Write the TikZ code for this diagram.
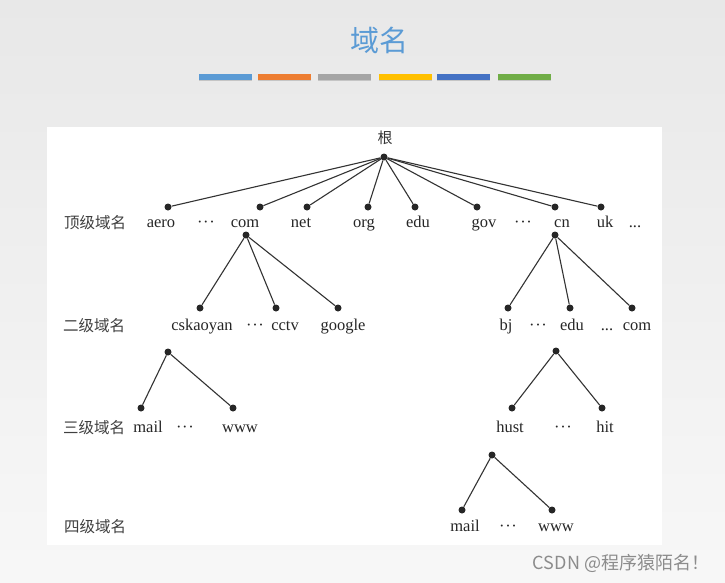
\documentclass[tikz,border=0pt]{standalone}
\usepackage{fontspec}
\setmainfont{Liberation Serif}
\newfontfamily\cjk{Noto Sans CJK SC}
\usetikzlibrary{shadows}
\newcommand{\mydots}{\textperiodcentered\kern0.6pt\textperiodcentered\kern0.6pt\textperiodcentered}
\begin{document}
\begin{tikzpicture}[x=1pt,y=-1pt,
  dot/.style={circle,fill=black!85,inner sep=0pt,minimum size=7pt},
  lbl/.style={font=\fontsize{16.5}{18}\selectfont,inner sep=0pt,text=black!85,anchor=base},
  lvl/.style={font=\cjk\fontsize{15.5}{18}\selectfont,inner sep=0pt,text=black!75,anchor=base},
  conn/.style={draw=black!80,line width=1.1pt},
  bar/.style={minimum width=53pt,minimum height=5.5pt,inner sep=0pt,
    drop shadow={shadow xshift=0.5pt,shadow yshift=-1.5pt,opacity=0.35}}]
\definecolor{ttl}{HTML}{5B9BD5}
\definecolor{b1}{HTML}{5B9BD5}
\definecolor{b2}{HTML}{ED7D31}
\definecolor{b3}{HTML}{A5A5A5}
\definecolor{b4}{HTML}{FFC000}
\definecolor{b5}{HTML}{4472C4}
\definecolor{b6}{HTML}{70AD47}
\useasboundingbox (0,0) rectangle (725,582);
\shade[top color=black!9,bottom color=black!3] (0,0) rectangle (725,582);
\fill[white] (47,127) rectangle (662,545);
% title
\node[font=\cjk\fontsize{29}{32}\selectfont,text=ttl,inner sep=0pt] (title) at (379,40) {域名};
\node[bar,fill=b1] (bar1) at (225,77) {};
\node[bar,fill=b2] (bar2) at (284,77) {};
\node[bar,fill=b3] (bar3) at (344,77) {};
\node[bar,fill=b4] (bar4) at (405,77) {};
\node[bar,fill=b5] (bar5) at (463,77) {};
\node[bar,fill=b6] (bar6) at (524,77) {};
% level names
\node[lvl] (L1) at (95,228) {顶级域名};
\node[lvl] (L2) at (94,331) {二级域名};
\node[lvl] (L3) at (94,433) {三级域名};
\node[lvl] (L4) at (95,532) {四级域名};
% root
\node[font=\cjk\fontsize{15}{18}\selectfont,inner sep=0pt,text=black!80] (rootlbl) at (385,138) {根};
\node[dot] (root) at (384,157) {};
% top level
\node[dot] (aero) at (168,207) {};
\node[dot] (com) at (260,207) {};
\node[dot] (net) at (307,207) {};
\node[dot] (org) at (368,207) {};
\node[dot] (edu) at (415,207) {};
\node[dot] (gov) at (477,207) {};
\node[dot] (cn) at (555,207) {};
\node[dot] (uk) at (601,207) {};
\foreach \n in {aero,com,net,org,edu,gov,cn,uk} \draw[conn] (root) -- (\n);
\node[lbl] (taero) at (161,227) {aero};
\node[lbl] (td1) at (206,227) {\mydots};
\node[lbl] (tcom) at (245,227) {com};
\node[lbl] (tnet) at (301,227) {net};
\node[lbl] (torg) at (364,227) {org};
\node[lbl] (tedu) at (418,227) {edu};
\node[lbl] (tgov) at (484,227) {gov};
\node[lbl] (td2) at (523,227) {\mydots};
\node[lbl] (tcn) at (562,227) {cn};
\node[lbl] (tuk) at (605,227) {uk};
\node[lbl] (td3) at (635,227) {...};
% com subtree
\node[dot] (comB) at (246,235) {};
\node[dot] (csk) at (200,308) {};
\node[dot] (cctv) at (276,308) {};
\node[dot] (goog) at (338,308) {};
\foreach \n in {csk,cctv,goog} \draw[conn] (comB) -- (\n);
\node[lbl] (tcsk) at (202,330) {cskaoyan};
\node[lbl] (td4) at (255,330) {\mydots};
\node[lbl] (tcctv) at (285,330) {cctv};
\node[lbl] (tgoog) at (343,330) {google};
% cn subtree
\node[dot] (cnB) at (555,235) {};
\node[dot] (bj) at (508,308) {};
\node[dot] (edu2) at (570,308) {};
\node[dot] (com2) at (632,308) {};
\foreach \n in {bj,edu2,com2} \draw[conn] (cnB) -- (\n);
\node[lbl] (tbj) at (506,330) {bj};
\node[lbl] (td5) at (538,330) {\mydots};
\node[lbl] (tedu2) at (572,330) {edu};
\node[lbl] (td6) at (607,330) {...};
\node[lbl] (tcom2) at (637,330) {com};
% cskaoyan subtree
\node[dot] (cskB) at (168,352) {};
\node[dot] (mail1) at (141,408) {};
\node[dot] (www1) at (233,408) {};
\draw[conn] (cskB) -- (mail1);
\draw[conn] (cskB) -- (www1);
\node[lbl] (tmail1) at (148,432) {mail};
\node[lbl] (td7) at (185,432) {\mydots};
\node[lbl] (twww1) at (240,432) {www};
% edu subtree
\node[dot] (eduB) at (556,351) {};
\node[dot] (hust) at (512,408) {};
\node[dot] (hit) at (602,408) {};
\draw[conn] (eduB) -- (hust);
\draw[conn] (eduB) -- (hit);
\node[lbl] (thust) at (510,432) {hust};
\node[lbl] (td8) at (563,432) {\mydots};
\node[lbl] (thit) at (605,432) {hit};
% hust subtree
\node[dot] (hustB) at (492,455) {};
\node[dot] (mail2) at (462,510) {};
\node[dot] (www2) at (552,510) {};
\draw[conn] (hustB) -- (mail2);
\draw[conn] (hustB) -- (www2);
\node[lbl] (tmail2) at (465,531) {mail};
\node[lbl] (td9) at (508,531) {\mydots};
\node[lbl] (twww2) at (556,531) {www};
% watermark
\node[font=\cjk\fontsize{18}{20}\selectfont,text=black!45,inner sep=0pt] (wm) at (621,563) {CSDN @程序猿陌名！};
\end{tikzpicture}
\end{document}
